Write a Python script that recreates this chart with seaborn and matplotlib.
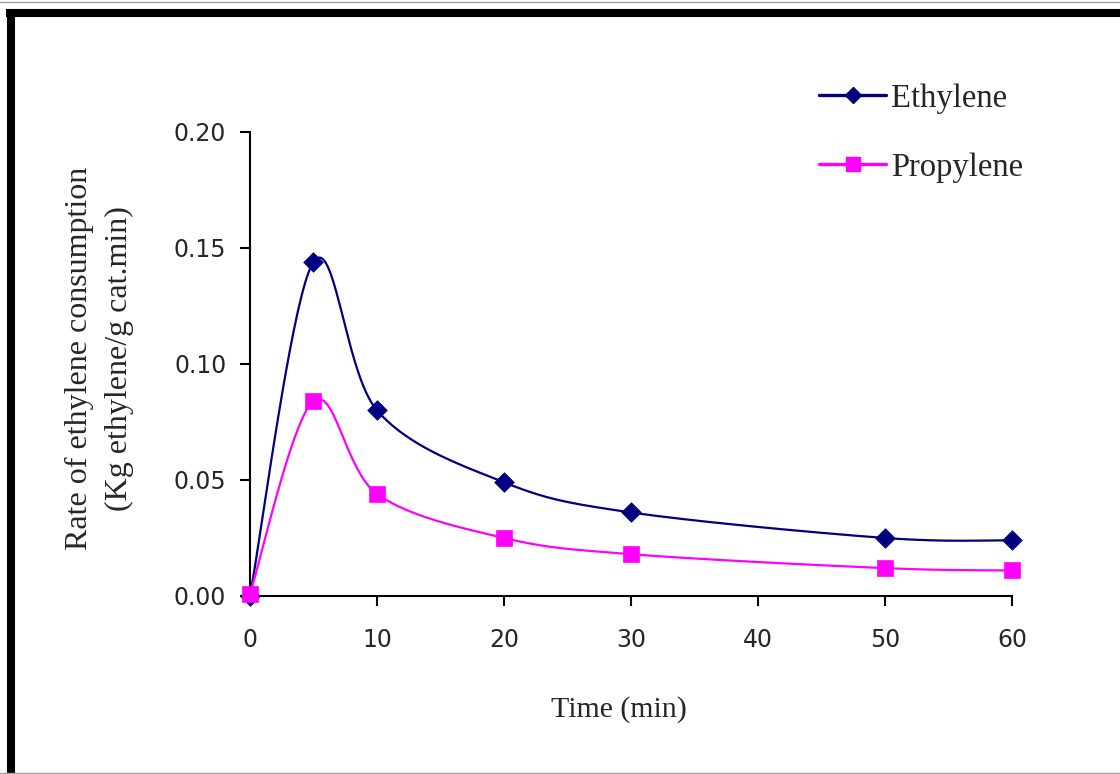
import numpy as np
import pandas as pd
import matplotlib
matplotlib.use("Agg")
import matplotlib.pyplot as plt
from matplotlib.lines import Line2D
import seaborn as sns

# Reaction time (min) and consumption rates (Kg ethylene / g cat.min)
time_min = [0, 5, 10, 20, 30, 50, 60]
ethylene = [0.000, 0.144, 0.080, 0.049, 0.036, 0.025, 0.024]
propylene = [0.001, 0.084, 0.044, 0.025, 0.018, 0.012, 0.011]

x_ticks = [0, 10, 20, 30, 40, 50, 60]
y_ticks = [0.00, 0.05, 0.10, 0.15, 0.20]

sns.set_theme(style="white")
plt.rcParams["font.family"] = ["Liberation Serif", "DejaVu Serif"]


def smooth_curve(xs, ys, n=40):
    """Piecewise cubic Bezier through the points (Catmull-Rom style, tension 1/6)."""
    pts = np.column_stack([xs, ys]).astype(float)
    # scale to comparable units so the tangents behave like on screen
    sx = 1.0 / 60.0
    sy = 1.0 / 0.20 * (464.0 / 762.0)
    p = pts * [sx, sy]
    out = []
    for i in range(len(p) - 1):
        p0 = p[i - 1] if i > 0 else p[i]
        p1 = p[i]
        p2 = p[i + 1]
        p3 = p[i + 2] if i + 2 < len(p) else p[i + 1]
        c1 = p1 + (p2 - p0) / 6.0
        c2 = p2 - (p3 - p1) / 6.0
        t = np.linspace(0, 1, n)[:, None]
        seg = ((1 - t) ** 3) * p1 + 3 * ((1 - t) ** 2) * t * c1 + 3 * (1 - t) * t ** 2 * c2 + t ** 3 * p2
        out.append(seg if i == 0 else seg[1:])
    curve = np.vstack(out) / [sx, sy]
    return curve[:, 0], curve[:, 1]


fig = plt.figure(figsize=(11.2, 7.74), dpi=100)
ax = fig.add_axes([0.2232, 0.2300, 0.6804, 0.5995])

series = [
    ("Ethylene", ethylene, "#000080", "D", 10),
    ("Propylene", propylene, "#FF00FF", "s", 11.5),
]

handles = []
for name, vals, color, marker, msize in series:
    cx, cy = smooth_curve(time_min, vals)
    curve = pd.DataFrame({"t": cx, "r": cy})
    sns.lineplot(data=curve, x="t", y="r", sort=False, estimator=None,
                 color=color, linewidth=1.6, ax=ax, legend=False)
    pts = pd.DataFrame({"t": time_min, "r": vals})
    sns.scatterplot(data=pts, x="t", y="r", marker=marker, s=msize ** 2,
                    color=color, edgecolor=color, linewidth=0.5, ax=ax,
                    legend=False, clip_on=False, zorder=5)
    handles.append(Line2D([0], [0], color=color, linewidth=2.4, marker=marker,
                          markersize=msize * 0.85, markerfacecolor=color,
                          markeredgecolor=color, label=name))

ax.set_xlim(0, 60)
ax.set_ylim(0, 0.20)
ax.set_xticks(x_ticks)
ax.set_yticks(y_ticks)
ax.set_xticklabels([str(v) for v in x_ticks], family="DejaVu Sans", fontsize=17)
ax.set_yticklabels([f"{v:.2f}" for v in y_ticks], family="DejaVu Sans", fontsize=17)
ax.tick_params(axis="both", direction="out", length=7, width=1.5, color="black",
               bottom=True, left=True)
ax.tick_params(axis="x", pad=16)
ax.tick_params(axis="y", pad=10)

for side in ("top", "right"):
    ax.spines[side].set_visible(False)
for side in ("left", "bottom"):
    ax.spines[side].set_color("black")
    ax.spines[side].set_linewidth(1.5)

ax.set_xlabel("Time (min)", fontsize=21.5)
ax.xaxis.set_label_coords(0.484, -0.215)
ax.set_ylabel("Rate of ethylene consumption\n(Kg ethylene/g cat.min)",
              fontsize=23, linespacing=1.5)
ax.yaxis.set_label_coords(-0.152, 0.512)

fig.legend(handles=handles, loc="upper left", bbox_to_anchor=(0.720, 0.9095),
           frameon=False, fontsize=23.5, handlelength=2.05, handletextpad=0.15,
           labelspacing=1.18, borderaxespad=0)

# page frame
fig.add_artist(Line2D([0.005, 1.0], [0.9832, 0.9832], color="black", linewidth=5.8,
                      transform=fig.transFigure, solid_capstyle="butt"))
fig.add_artist(Line2D([0.0098, 0.0098], [0.0, 0.987], color="black", linewidth=5.8,
                      transform=fig.transFigure, solid_capstyle="butt"))
fig.add_artist(Line2D([0.0, 1.0], [0.9975, 0.9975], color="#a0a0a0", linewidth=1.0,
                      transform=fig.transFigure))
fig.add_artist(Line2D([0.0, 1.0], [0.0015, 0.0015], color="#a0a0a0", linewidth=1.0,
                      transform=fig.transFigure))

fig.savefig("out.png", dpi=100, facecolor="white")
